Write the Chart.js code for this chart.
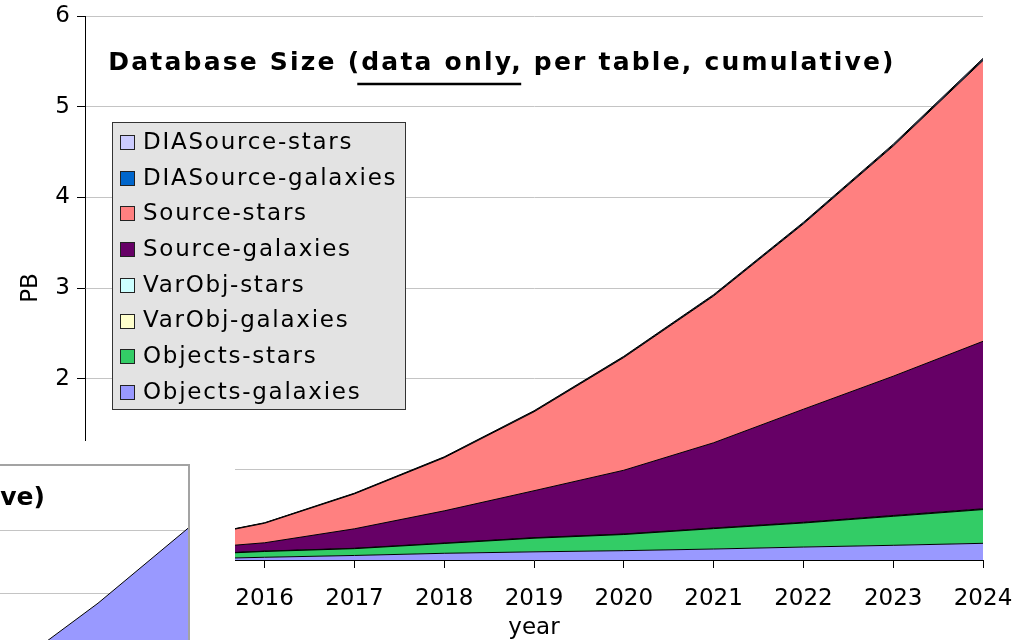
<!DOCTYPE html>
<html>
<head>
<meta charset="utf-8">
<script src="https://cdn.jsdelivr.net/npm/chart.js@4.4.1/dist/chart.umd.min.js"></script>
<style>
  html, body { margin: 0; padding: 0; background: #fff; }
  #stage { position: relative; width: 1015px; height: 640px; overflow: hidden; }
  #main { position: absolute; left: 0; top: 0; width: 1015px; height: 640px; }
  #inset { position: absolute; left: 0; top: 441px; width: 235px; height: 199px; background: #fff; overflow: hidden; }
  #insetFrame { position: absolute; top: 23px; border: 2px solid #a3a3a3; background: #fff; }
</style>
</head>
<body>
<div id="stage">
  <div id="main"><canvas id="mainChart"></canvas></div>
  <div id="inset"><div id="insetFrame"><canvas id="insetChart"></canvas></div></div>
</div>
<script>
// ---- data (PB, cumulative per table) ----
const years = ['2014', '2015', '2016', '2017', '2018', '2019', '2020', '2021', '2022', '2023', '2024'];

const objectsGalaxies   = [0.003, 0.008, 0.030, 0.050, 0.074, 0.090, 0.103, 0.121, 0.143, 0.162, 0.184];
const objectsStars      = [0.018, 0.043, 0.064, 0.075, 0.108, 0.150, 0.178, 0.225, 0.265, 0.320, 0.372];
const varObjGalaxies    = [0.001, 0.001, 0.002, 0.002, 0.002, 0.003, 0.003, 0.003, 0.004, 0.004, 0.004];
const varObjStars       = [0.001, 0.001, 0.002, 0.002, 0.003, 0.003, 0.003, 0.004, 0.004, 0.005, 0.005];
const sourceGalaxies    = [0.022, 0.057, 0.092, 0.215, 0.355, 0.518, 0.703, 0.940, 1.247, 1.536, 1.847];
const sourceStars       = [0.042, 0.100, 0.215, 0.385, 0.586, 0.870, 1.243, 1.618, 2.044, 2.538, 3.097];
const diaSourceGalaxies = [0.001, 0.002, 0.003, 0.004, 0.005, 0.006, 0.007, 0.008, 0.009, 0.010, 0.012];
const diaSourceStars    = [0.001, 0.002, 0.003, 0.004, 0.005, 0.006, 0.007, 0.008, 0.009, 0.011, 0.012];

const yTicks = [0, 1, 2, 3, 4, 5, 6];

// second panel (data + indexes), only the Objects-galaxies layer
const insetValues = [0.05, 0.10, 0.20, 0.35, 0.58, 0.90, 1.35, 1.95, 2.78, 3.84, 5.03];

const FONT = "'DejaVu Sans', Verdana, sans-serif";
const mainTitle = 'Database Size (data only, per table, cumulative)';
const underlined = 'data only';
const insetTitle = 'Database Size (data + indexes, per table, cumulative)';

// stacking order: bottom first
const series = [
  { label: 'Objects-galaxies',   data: objectsGalaxies,   color: '#9999ff' },
  { label: 'Objects-stars',      data: objectsStars,      color: '#33cc66' },
  { label: 'VarObj-galaxies',    data: varObjGalaxies,    color: '#ffffcc' },
  { label: 'VarObj-stars',       data: varObjStars,       color: '#ccffff' },
  { label: 'Source-galaxies',    data: sourceGalaxies,    color: '#660066' },
  { label: 'Source-stars',       data: sourceStars,       color: '#ff8080' },
  { label: 'DIASource-galaxies', data: diaSourceGalaxies, color: '#0066cc' },
  { label: 'DIASource-stars',    data: diaSourceStars,    color: '#ccccff' }
];

// Title with the hand-drawn underline, placed inside the plot area
const titlePlugin = {
  id: 'innerTitle',
  afterDraw(chart) {
    const ctx = chart.ctx;
    ctx.save();
    ctx.font = `bold 25px ${FONT}`;
    if ('letterSpacing' in ctx) ctx.letterSpacing = '2.2px';
    ctx.fillStyle = '#000';
    ctx.textBaseline = 'middle';
    ctx.textAlign = 'left';
    const w = ctx.measureText(mainTitle).width;
    const x0 = 502 - w / 2;
    const y = 63;
    ctx.fillText(mainTitle, x0, y);
    const pre = mainTitle.slice(0, mainTitle.indexOf(underlined));
    const ux0 = x0 + ctx.measureText(pre).width - 4;
    const ux1 = x0 + ctx.measureText(pre + underlined).width + 8;
    ctx.strokeStyle = '#000';
    ctx.lineWidth = 2.5;
    ctx.beginPath();
    ctx.moveTo(ux0, 84);
    ctx.lineTo(ux1, 84);
    ctx.stroke();
    ctx.restore();
  }
};

// Boxed legend inside the plot area, top entry = top of the stack
const boxLegendPlugin = {
  id: 'boxLegend',
  afterDraw(chart) {
    const ctx = chart.ctx;
    const items = chart.data.datasets.map(d => ({ label: d.label, color: d.backgroundColor })).reverse();
    const left = 112.5, top = 122.5, width = 293, height = 287;
    ctx.save();
    ctx.fillStyle = '#e3e3e3';
    ctx.fillRect(left, top, width, height);
    ctx.strokeStyle = '#333';
    ctx.lineWidth = 1;
    ctx.strokeRect(left, top, width, height);
    ctx.font = `23px ${FONT}`;
    if ('letterSpacing' in ctx) ctx.letterSpacing = '1.75px';
    ctx.textBaseline = 'middle';
    ctx.textAlign = 'left';
    const rowH = 35.7;
    items.forEach((it, i) => {
      const cy = 142 + i * rowH;
      ctx.fillStyle = it.color;
      ctx.fillRect(120.5, Math.round(cy - 7) + 0.5, 14, 14);
      ctx.strokeStyle = '#222';
      ctx.strokeRect(120.5, Math.round(cy - 7) + 0.5, 14, 14);
      ctx.fillStyle = '#000';
      ctx.fillText(it.label, 143, cy + 1);
    });
    ctx.restore();
  }
};

new Chart(document.getElementById('mainChart'), {
  type: 'line',
  data: {
    labels: years,
    datasets: series.map((s, i) => ({
      label: s.label,
      data: s.data,
      backgroundColor: s.color,
      borderColor: '#000',
      borderWidth: 1,
      pointRadius: 0,
      tension: 0,
      fill: i === 0 ? 'origin' : '-1'
    }))
  },
  options: {
    responsive: true,
    maintainAspectRatio: false,
    animation: false,
    layout: { padding: { top: 16, right: 32, left: 0, bottom: 0 } },
    plugins: { legend: { display: false }, tooltip: { enabled: false }, title: { display: false } },
    scales: {
      x: {
        type: 'category',
        offset: false,
        grid: { drawOnChartArea: false, drawTicks: true, tickLength: 8, tickColor: '#000' },
        border: { color: '#000', width: 1 },
        ticks: { font: { family: FONT, size: 23 }, color: '#000', padding: 17, maxRotation: 0, autoSkip: false },
        title: { display: true, text: 'year', font: { family: FONT, size: 23 }, color: '#000', padding: { top: 0, bottom: -2 } },
        afterFit(scale) { scale.height = 80; scale.paddingLeft = 0; scale.paddingRight = 0; }
      },
      y: {
        stacked: true,
        min: yTicks[0],
        max: yTicks[yTicks.length - 1],
        afterBuildTicks(scale) { scale.ticks = yTicks.map(v => ({ value: v })); },
        grid: { color: '#c4c4c4', tickColor: '#000', tickLength: 8, lineWidth: 1 },
        border: { color: '#000', width: 1 },
        ticks: { font: { family: FONT, size: 23 }, color: '#000', padding: 7 },
        title: { display: true, text: 'PB', font: { family: FONT, size: 23 }, color: '#000', padding: { top: 17, bottom: 0 } },
        afterFit(scale) { scale.width = 85; scale.paddingTop = 0; scale.paddingBottom = 0; }
      }
    }
  },
  plugins: [titlePlugin, boxLegendPlugin]
});

// ---- second panel, laid out so its plot edge sits at x = 188 ----
(function () {
  const probe = document.createElement('canvas').getContext('2d');
  probe.font = `bold 25px ${FONT}`;
  const tw = probe.measureText(insetTitle).width;
  const innerRight = 188;
  const titleEnd = 45;
  const W = Math.round(2 * (innerRight - titleEnd) + tw);
  const H = 379;
  const frame = document.getElementById('insetFrame');
  frame.style.left = (innerRight - W - 2) + 'px';
  frame.style.width = W + 'px';
  frame.style.height = H + 'px';

  new Chart(document.getElementById('insetChart'), {
    type: 'line',
    data: {
      datasets: [{
        label: 'Objects-galaxies',
        data: insetValues.map((v, i) => ({ x: Number(years[i]), y: v })),
        backgroundColor: '#9999ff',
        borderColor: '#000',
        borderWidth: 1,
        pointRadius: 0,
        tension: 0,
        fill: 'origin'
      }]
    },
    options: {
      responsive: true,
      maintainAspectRatio: false,
      animation: false,
      layout: { padding: 0 },
      plugins: {
        legend: { display: false },
        tooltip: { enabled: false },
        title: {
          display: true, text: insetTitle, color: '#000',
          font: { family: FONT, size: 25, weight: 'bold' },
          padding: { top: 17, bottom: 14 }
        }
      },
      scales: {
        x: {
          type: 'linear',
          min: 2024 - W / 90,
          max: 2024,
          grid: { display: false },
          border: { display: false },
          ticks: { display: false },
          afterFit(scale) { scale.height = 0; }
        },
        y: {
          min: 0,
          max: 5.05,
          ticks: { display: false, stepSize: 1, includeBounds: false },
          grid: { color: '#c4c4c4', drawTicks: false },
          border: { display: false },
          afterFit(scale) { scale.width = 0; }
        }
      }
    }
  });
})();
</script>
</body>
</html>
